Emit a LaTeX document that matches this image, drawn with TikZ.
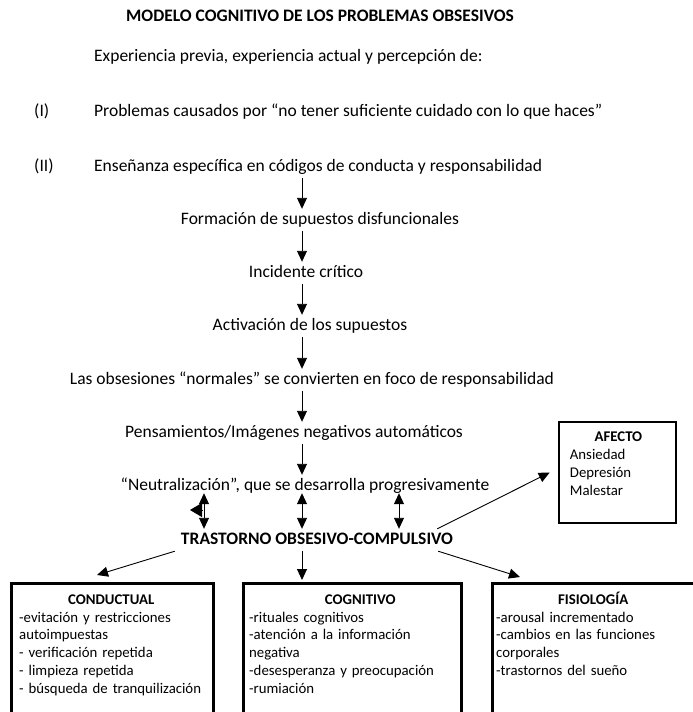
\documentclass[tikz,border=0pt]{standalone}
\usepackage{fontspec}
\setmainfont{Carlito}
\usetikzlibrary{arrows.meta,positioning,calc}

\tikzset{
    texto/.style={font=\fontsize{17.5}{21}\selectfont, inner xsep=1pt, inner ysep=3pt,
        text height=12pt, text depth=4pt},
    negrita/.style={texto, font=\fontsize{17.5}{21}\selectfont\bfseries},
    flecha/.style={line width=0.9pt, -{Triangle[length=11pt,width=10pt]}},
    doble/.style={line width=0.9pt, {Triangle[length=11pt,width=10pt]}-{Triangle[length=11pt,width=10pt]}},
    caja/.style={draw, line width=2.6pt, inner sep=0pt},
    contenido/.style={font=\fontsize{14.8}{17.8}\selectfont, align=left, inner sep=0pt}
}
\newcommand{\encab}[1]{{\centering\bfseries\rule{0pt}{13pt}#1\par}}

\begin{document}
\begin{tikzpicture}[x=1pt, y=-1pt]
    \useasboundingbox (0,0) rectangle (693,712);
    \clip (0,0) rectangle (693,712);

    % cabecera
    \node[negrita, anchor=base] (titulo) at (320,21) {MODELO COGNITIVO DE LOS PROBLEMAS OBSESIVOS};
    \node[texto, anchor=base west] (exper) at (93,61) {Experiencia previa, experiencia actual y percepción de:};
    \node[texto, anchor=base west] (num1) at (33,116) {(I)};
    \node[texto, anchor=base west] (probl) at (93,116) {Problemas causados por “no tener suficiente cuidado con lo que haces”};
    \node[texto, anchor=base west] (num2) at (33,171) {(II)};
    \node[texto, anchor=base west] (ensen) at (93,171) {Enseñanza específica en códigos de conducta y responsabilidad};

    % cadena central
    \coordinate (eje) at (302,0);
    \node[texto, anchor=base] (forma) at (320,224) {Formación de supuestos disfuncionales};
    \node[texto, anchor=base] (incid) at (306,277) {Incidente crítico};
    \node[texto, anchor=base] (activ) at (310,330) {Activación de los supuestos};
    \node[texto, anchor=base] (obses) at (312,384) {Las obsesiones “normales” se convierten en foco de responsabilidad};
    \node[texto, anchor=base] (pensa) at (294,437) {Pensamientos/Imágenes negativos automáticos};
    \node[texto, anchor=base] (neutr) at (305,490) {“Neutralización”, que se desarrolla progresivamente};
    \node[negrita, anchor=base] (toc) at (317,544) {TRASTORNO OBSESIVO-COMPULSIVO};

    \foreach \a/\b in {ensen/forma, forma/incid, incid/activ, activ/obses, obses/pensa, pensa/neutr}
        \draw[flecha] (\a.south -| eje) -- (\b.north -| eje);

    \foreach \x in {204,302,399} {
        \coordinate (d\x) at (\x,0);
        \draw[doble, shorten <=-4pt] (neutr.south -| d\x) -- (toc.north -| d\x);
    }
    \coordinate (ancla) at (203,510);
    \coordinate (punta) at (190,510);
    \draw[line width=0.9pt, -{Triangle[length=12pt,width=14pt]}] (ancla) -- (punta);

    % afecto
    \node[caja, minimum width=117pt, minimum height=101pt] (afecto) at (617.5,472.5) {};
    \node[contenido, text width=97pt, below right=8pt and 12pt of afecto.north west] (afectotxt)
        {\encab{AFECTO}Ansiedad\\Depresión\\Malestar};
    \draw[flecha] ([xshift=-17pt]toc.north east) -- ([xshift=-8pt]afecto.west);

    % cajas inferiores
    \node[caja, minimum width=202pt, minimum height=160pt, anchor=north west] (conduc) at (10,582) {};
    \node[caja, minimum width=218pt, minimum height=160pt, anchor=north west] (cognit) at (242,582) {};
    \node[caja, minimum width=210pt, minimum height=160pt, anchor=north west] (fisiol) at (491,582) {};

    \node[contenido, text width=184pt, below right=9pt and 9pt of conduc.north west] (conductxt)
        {\encab{CONDUCTUAL}-evitación y restricciones\\autoimpuestas\\- verificación repetida\\- limpieza repetida\\- búsqueda de tranquilización};
    \node[contenido, text width=200pt, below right=9pt and 7pt of cognit.north west] (cognitxt)
        {\encab{\hspace*{22pt}COGNITIVO}-rituales cognitivos\\-atención a la información\\negativa\\-desesperanza y preocupación\\-rumiación};
    \node[contenido, text width=194pt, below right=9pt and 5pt of fisiol.north west] (fisioltxt)
        {\encab{FISIOLOGÍA}-arousal incrementado\\-cambios en las funciones\\corporales\\-trastornos del sueño};

    \draw[flecha] ([xshift=-5pt]toc.south west) -- ([xshift=87pt,yshift=7pt]conduc.north west);
    \draw[flecha] (toc.south -| eje) -- ([yshift=2pt]cognit.north -| eje);
    \draw[flecha] ([xshift=-16pt]toc.south east) -- ([xshift=29pt,yshift=5pt]fisiol.north west);
\end{tikzpicture}
\end{document}
